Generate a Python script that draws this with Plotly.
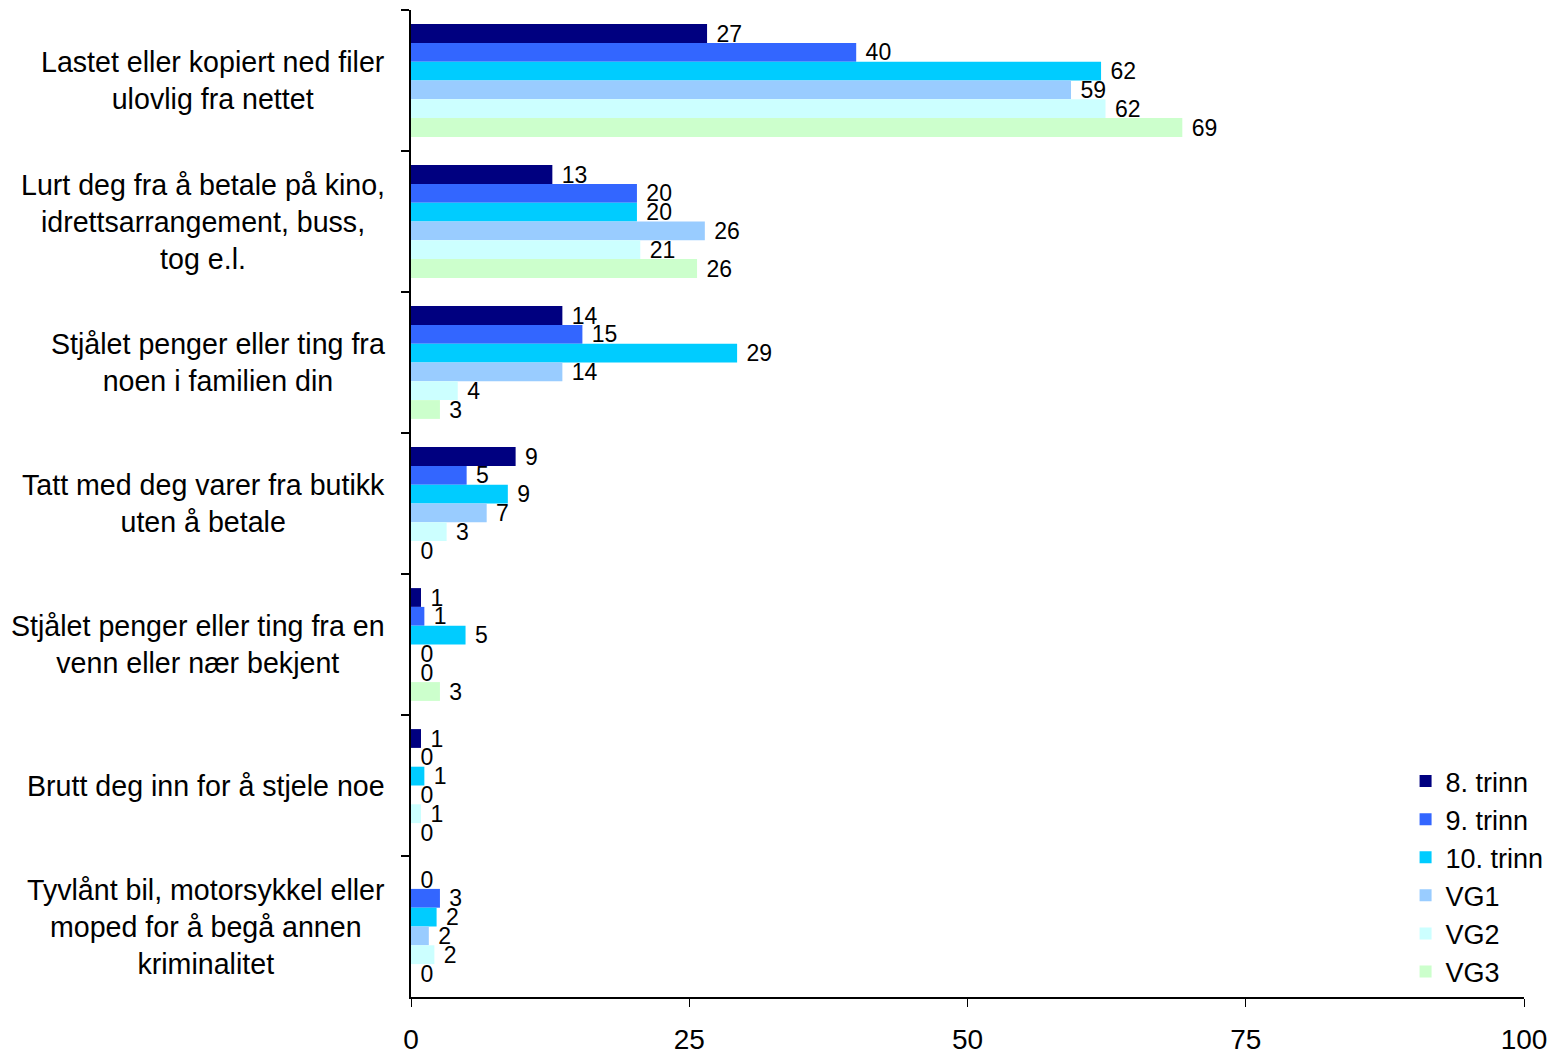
import plotly.graph_objects as go

categories = [
    "Lastet eller kopiert ned filer<br>ulovlig fra nettet",
    "Lurt deg fra å betale på kino,<br>idrettsarrangement, buss,<br>tog e.l.",
    "Stjålet penger eller ting fra<br>noen i familien din",
    "Tatt med deg varer fra butikk<br>uten å betale",
    "Stjålet penger eller ting fra en<br>venn eller nær bekjent",
    "Brutt deg inn for å stjele noe",
    "Tyvlånt bil, motorsykkel eller<br>moped for å begå annen<br>kriminalitet",
]
series_names = ["8. trinn", "9. trinn", "10. trinn", "VG1", "VG2", "VG3"]
trinn8 = [26.6, 12.7, 13.6, 9.4, 0.9, 0.9, 0.0]
trinn9 = [40.0, 20.3, 15.4, 5.0, 1.2, 0.0, 2.6]
trinn10 = [62.0, 20.3, 29.3, 8.7, 4.9, 1.2, 2.3]
vg1 = [59.3, 26.4, 13.6, 6.8, 0.0, 0.0, 1.6]
vg2 = [62.4, 20.6, 4.2, 3.2, 0.0, 0.9, 2.1]
vg3 = [69.3, 25.7, 2.6, 0.0, 2.6, 0.0, 0.0]
colors = ["#000080", "#3366FF", "#00CCFF", "#99CCFF", "#CCFFFF", "#CCFFCC"]
x_ticks = [0, 25, 50, 75, 100]

all_series = [trinn8, trinn9, trinn10, vg1, vg2, vg3]
FONT = "Liberation Sans, Arial"

fig = go.Figure()
for name, vals, col in zip(series_names, all_series, colors):
    fig.add_trace(go.Bar(
        y=categories, x=vals, name=name, orientation="h",
        marker=dict(color=col, line=dict(width=0)),
        text=[f" {round(v):d}" for v in vals],
        textposition="outside",
        constraintext="none",
        textfont=dict(size=23, color="black", family=FONT),
        cliponaxis=False,
    ))

for c in categories:
    fig.add_annotation(
        x=0, xref="paper", y=c, yref="y", text=c, showarrow=False,
        xanchor="right", yanchor="middle", align="center", xshift=-24,
        font=dict(size=28.6, color="black", family=FONT),
    )

fig.update_layout(
    width=1552, height=1050,
    margin=dict(l=403, r=36, t=2, b=61),
    paper_bgcolor="white", plot_bgcolor="white",
    barmode="group", bargap=0.2, bargroupgap=0,
    font=dict(family=FONT, size=28, color="black"),
    legend=dict(
        x=0.8936, y=0.001, xanchor="left", yanchor="bottom",
        font=dict(size=27, color="black", family=FONT), bgcolor="rgba(0,0,0,0)",
        itemwidth=30, tracegroupgap=0,
    ),
    showlegend=True,
)
fig.update_xaxes(
    range=[0, 100], tickvals=x_ticks, ticktext=[str(t) for t in x_ticks],
    showgrid=False, zeroline=False, showline=True, linecolor="black", linewidth=2,
    ticks="outside", ticklen=8, tickcolor="black", tickwidth=1,
    ticklabelstandoff=8, automargin=False,
    tickfont=dict(size=28, color="black", family=FONT),
)
fig.update_yaxes(
    type="category", autorange="reversed", automargin=False,
    showgrid=False, zeroline=False, showline=True, linecolor="black", linewidth=2,
    ticks="outside", ticklen=8, tickcolor="black", tickwidth=2,
    tickson="boundaries", showticklabels=False,
)

fig.write_html("out.html")
